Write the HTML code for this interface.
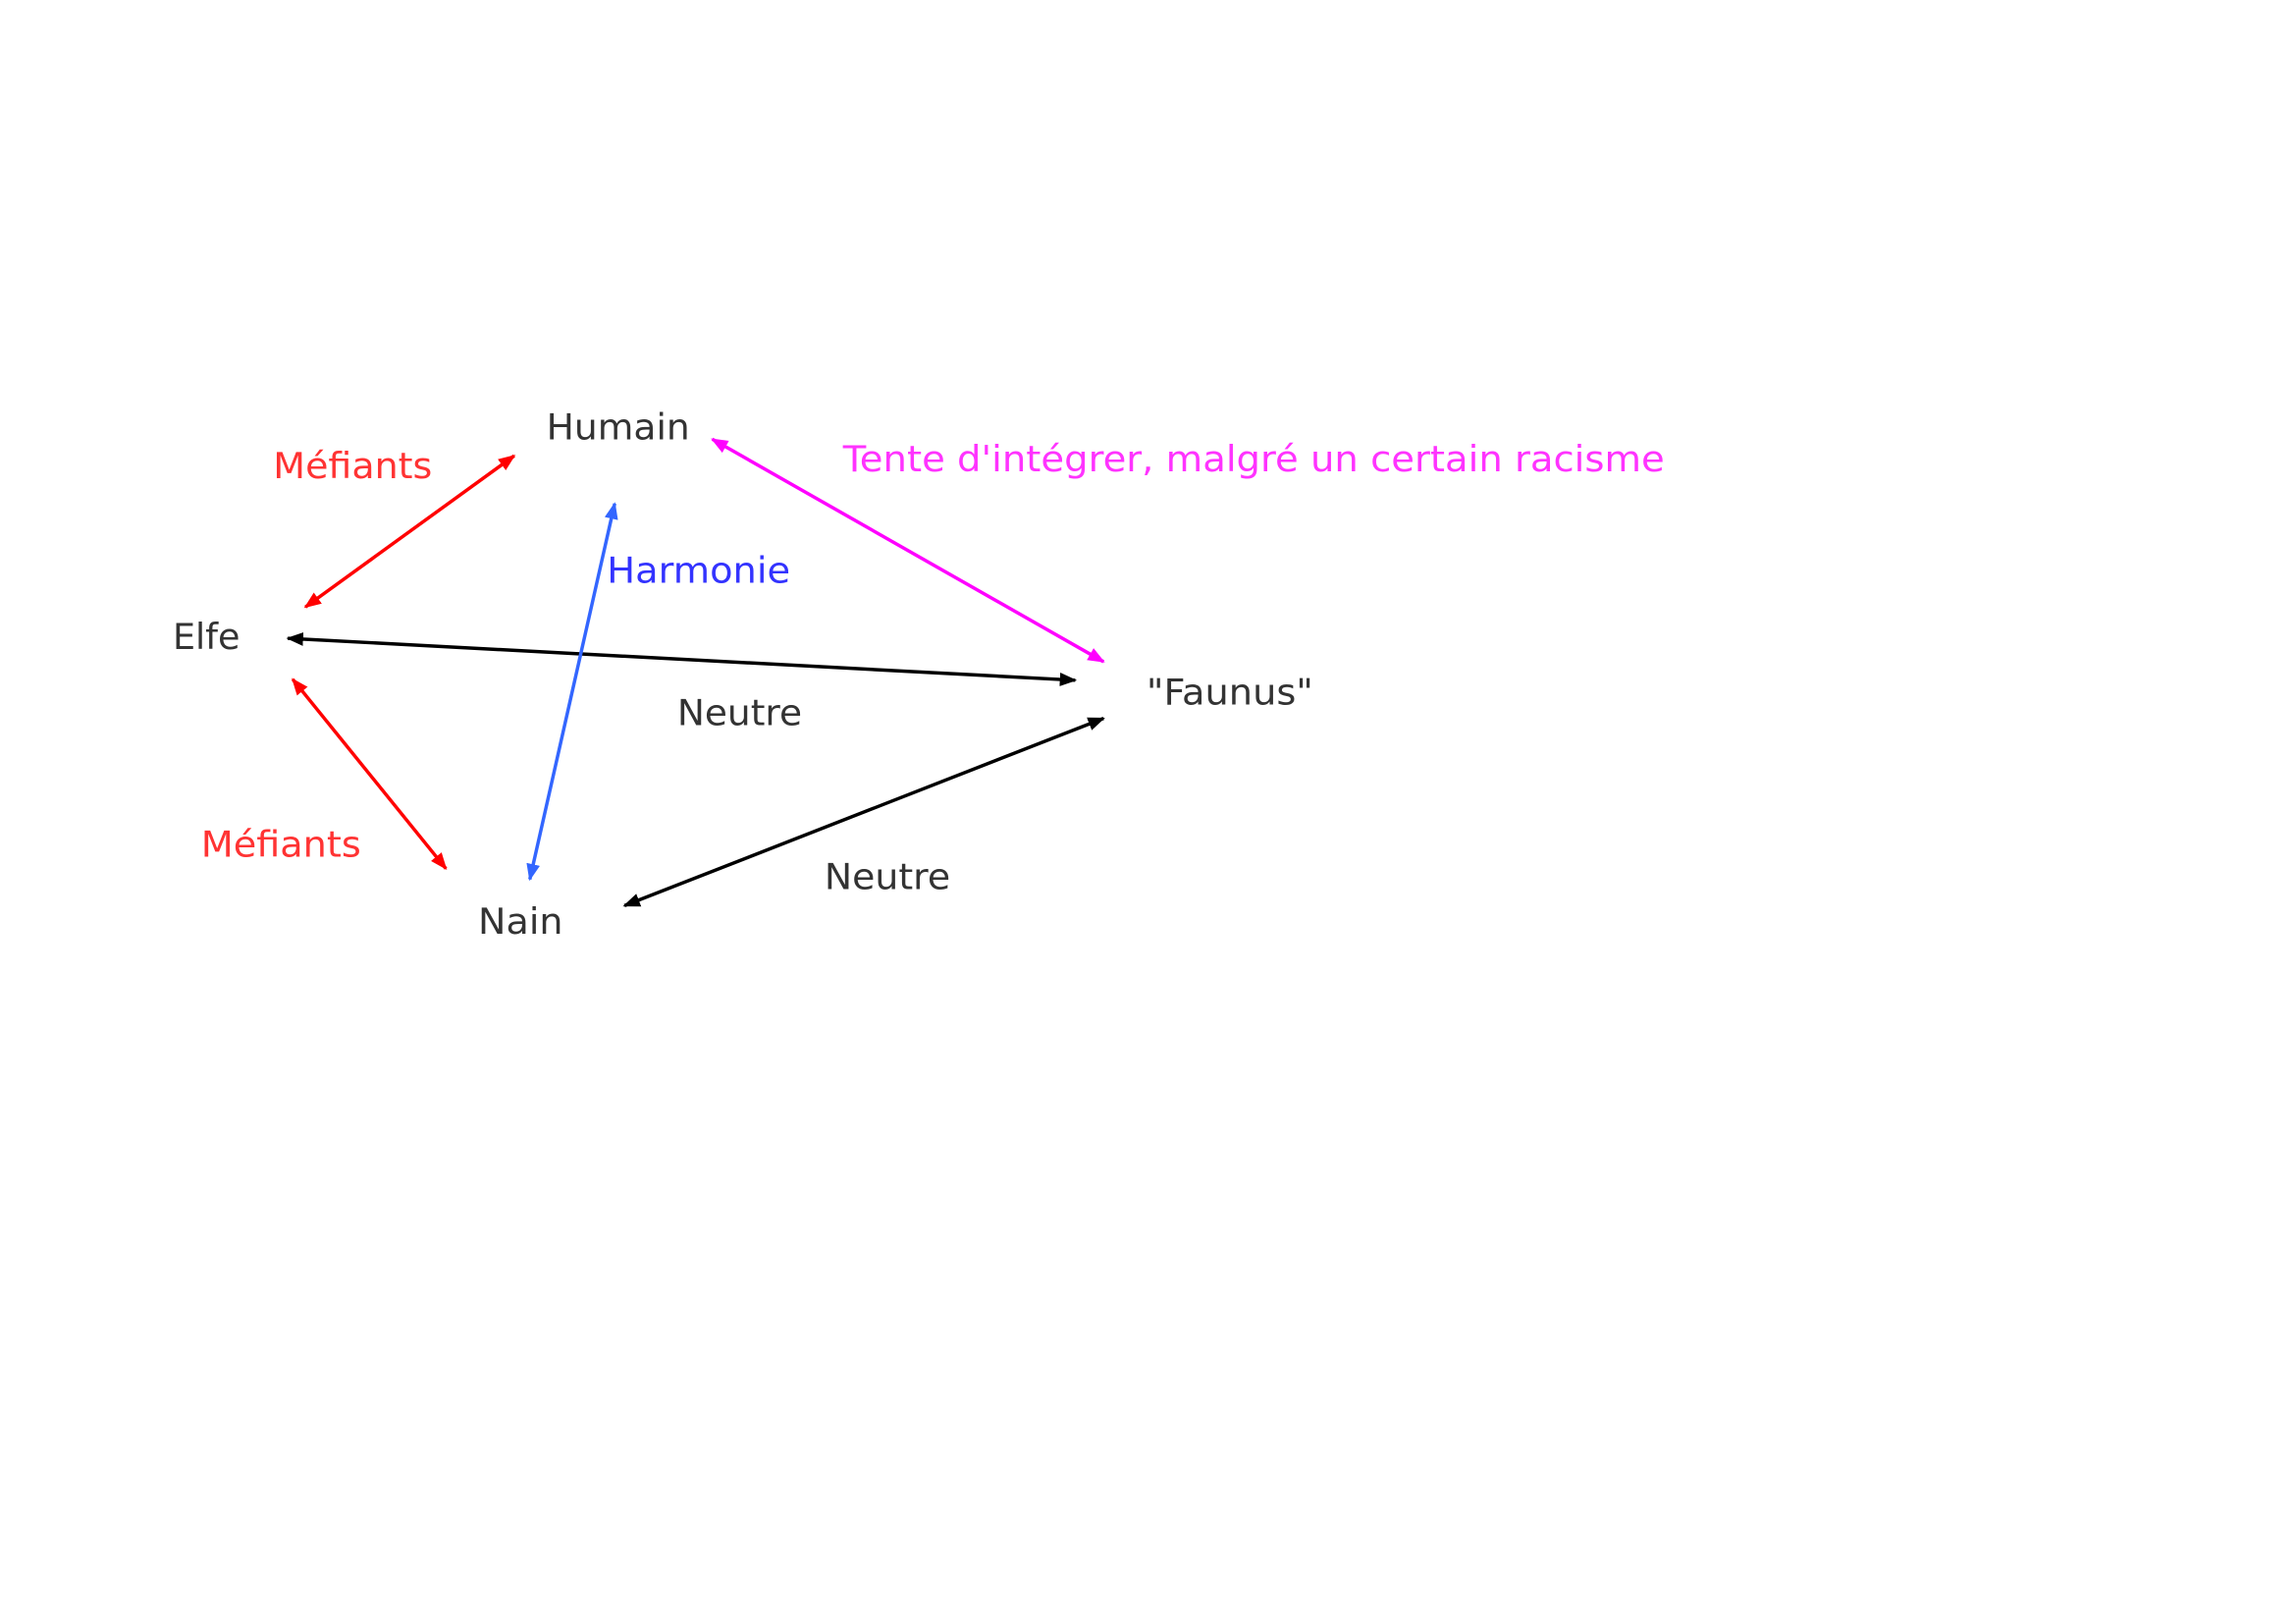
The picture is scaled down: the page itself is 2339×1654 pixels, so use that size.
<!DOCTYPE html>
<html><head><meta charset="utf-8"><style>html,body{margin:0;padding:0;background:#fff;}svg{display:block}</style></head>
<body>
<svg width="2339" height="1654" viewBox="0 0 2339 1654" xmlns="http://www.w3.org/2000/svg">
<defs>
<marker id="ar" viewBox="0 0 10 10" refX="9" refY="5" markerWidth="5" markerHeight="5" orient="auto-start-reverse" markerUnits="strokeWidth"><path d="M0,1 L10,5 L0,9 z" fill="#f00"/></marker>
<marker id="ak" viewBox="0 0 10 10" refX="9" refY="5" markerWidth="5" markerHeight="5" orient="auto-start-reverse" markerUnits="strokeWidth"><path d="M0,1 L10,5 L0,9 z" fill="#000"/></marker>
<marker id="am" viewBox="0 0 10 10" refX="9" refY="5" markerWidth="5" markerHeight="5" orient="auto-start-reverse" markerUnits="strokeWidth"><path d="M0,1 L10,5 L0,9 z" fill="#f0f"/></marker>
<marker id="ab" viewBox="0 0 10 10" refX="9" refY="5" markerWidth="5" markerHeight="5" orient="auto-start-reverse" markerUnits="strokeWidth"><path d="M0,1 L10,5 L0,9 z" fill="#36f"/></marker>
</defs>
<g transform="scale(0.994)">
<g stroke-width="3.5" fill="none">
<line x1="313" y1="622" x2="527" y2="467" stroke="#f00" marker-start="url(#ar)" marker-end="url(#ar)"/>
<line x1="295" y1="654" x2="1102" y2="697" stroke="#000" marker-start="url(#ak)" marker-end="url(#ak)"/>
<line x1="730" y1="450" x2="1131" y2="678" stroke="#f0f" marker-start="url(#am)" marker-end="url(#am)"/>
<line x1="630" y1="516" x2="543" y2="901" stroke="#36f" marker-start="url(#ab)" marker-end="url(#ab)"/>
<line x1="300" y1="696" x2="457" y2="890" stroke="#f00" marker-start="url(#ar)" marker-end="url(#ar)"/>
<line x1="640" y1="928" x2="1131" y2="736" stroke="#000" marker-start="url(#ak)" marker-end="url(#ak)"/>
</g>
<g font-family="DejaVu Sans, Liberation Sans, sans-serif" font-size="37" fill="#333">
<text x="560" y="450" textLength="147" lengthAdjust="spacingAndGlyphs">Humain</text>
<text x="177" y="665" textLength="69" lengthAdjust="spacingAndGlyphs">Elfe</text>
<text x="1175" y="722" textLength="171" lengthAdjust="spacingAndGlyphs">"Faunus"</text>
<text x="694" y="743" textLength="128" lengthAdjust="spacingAndGlyphs">Neutre</text>
<text x="845" y="911" textLength="129" lengthAdjust="spacingAndGlyphs">Neutre</text>
<text x="490" y="957" textLength="87" lengthAdjust="spacingAndGlyphs">Nain</text>
<text x="280" y="490" fill="#f33" textLength="163" lengthAdjust="spacingAndGlyphs">Méfiants</text>
<text x="206" y="878" fill="#f33" textLength="164" lengthAdjust="spacingAndGlyphs">Méfiants</text>
<text x="622" y="597" fill="#33f" textLength="188" lengthAdjust="spacingAndGlyphs">Harmonie</text>
<text x="864" y="483" fill="#f3f" textLength="842" lengthAdjust="spacingAndGlyphs">Tente d'intégrer, malgré un certain racisme</text>
</g>
</g>
</svg>
</body></html>
